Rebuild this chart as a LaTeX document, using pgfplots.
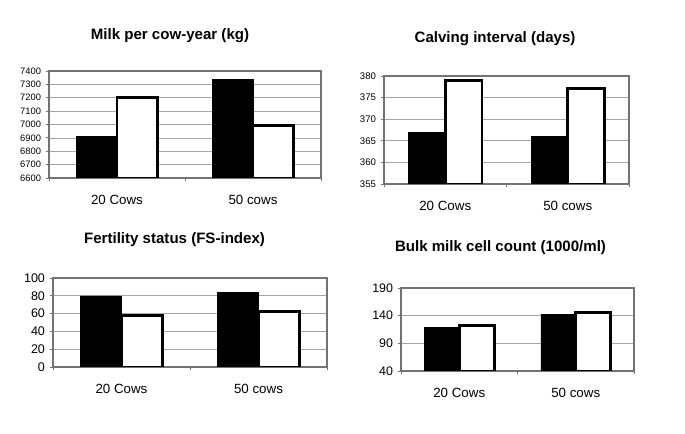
\documentclass[border=0pt]{standalone}
\usepackage{fontspec}
\setmainfont{Liberation Sans}
\usepackage{pgfplots}
\pgfplotsset{compat=1.18}
\pgfplotsset{
  cowbar/.style={
    scale only axis, anchor=south west,
    ybar=0pt, bar width=0.3,
    xmin=-0.5, xmax=1.5,
    xtick={-0.5,0.5,1.5}, xticklabels={},
    extra x ticks={0,1}, extra x tick labels={20 Cows,50 cows},
    extra x tick style={major tick length=0pt, grid=none,
      tick label style={font=\fontsize{10}{12}\selectfont, yshift=-9pt}},
    ymajorgrids, major grid style={color=black!35, line width=0.5pt},
    axis line style={color=black!55, line width=0.8pt},
    tick style={color=black!55, line width=0.6pt},
    tick align=outside, major tick length=2.5pt,
    xtick pos=bottom, ytick pos=left,
    /pgf/number format/assume math mode=true,
    /pgf/number format/1000 sep={},
    title style={font=\bfseries\fontsize{11.3}{13}\selectfont, anchor=center, at={(0.5,1)}},
  },
  blackbar/.style={fill=black, draw=black, line width=0.4pt},
  whitebar/.style={fill=white, draw=black, line width=2.2pt},
}
\begin{document}
\begin{tikzpicture}
\useasboundingbox (0,0) rectangle (513.75pt,325.5pt);
% Panel 1
\begin{axis}[cowbar, at={(36.75pt,192pt)}, width=204pt, height=80.25pt,
  ymin=6600, ymax=7400, ytick={6600,6700,...,7400},
  yticklabel style={font=\fontsize{7}{8}\selectfont},
  title={Milk per cow-year (kg)}, title style={xshift=-11.25pt, yshift=20.5pt}]
\addplot[blackbar] coordinates {(0,6910) (1,7340)};
\addplot[whitebar] coordinates {(0,7200) (1,6990)};
\end{axis}
% Panel 2
\begin{axis}[cowbar, at={(288pt,187.5pt)}, width=183.75pt, height=81pt,
  ymin=355, ymax=380, ytick={355,360,...,380},
  yticklabel style={font=\fontsize{7.2}{8}\selectfont},
  title={Calving interval (days)}, title style={xshift=-8.6pt, yshift=21.75pt}]
\addplot[blackbar] coordinates {(0,367) (1,366)};
\addplot[whitebar] coordinates {(0,379) (1,377)};
\end{axis}
% Panel 3
\begin{axis}[cowbar, at={(39.75pt,50.25pt)}, width=205.5pt, height=66.75pt,
  ymin=0, ymax=100, ytick={0,20,...,100},
  yticklabel style={font=\fontsize{9.4}{10}\selectfont},
  title={Fertility status (FS-index)}, title style={xshift=-11.6pt, yshift=22.75pt}]
\addplot[blackbar] coordinates {(0,80) (1,84)};
\addplot[whitebar] coordinates {(0,58) (1,62)};
\end{axis}
% Panel 4
\begin{axis}[cowbar, at={(300.75pt,47.25pt)}, width=174.75pt, height=62.25pt,
  ymin=40, ymax=190, ytick={40,90,140,190},
  yticklabel style={font=\fontsize{9.3}{10}\selectfont},
  title={Bulk milk cell count (1000/ml)}, title style={xshift=-12.75pt, yshift=24.5pt}]
\addplot[blackbar] coordinates {(0,119) (1,142)};
\addplot[whitebar] coordinates {(0,123) (1,146)};
\end{axis}
\end{tikzpicture}
\end{document}
